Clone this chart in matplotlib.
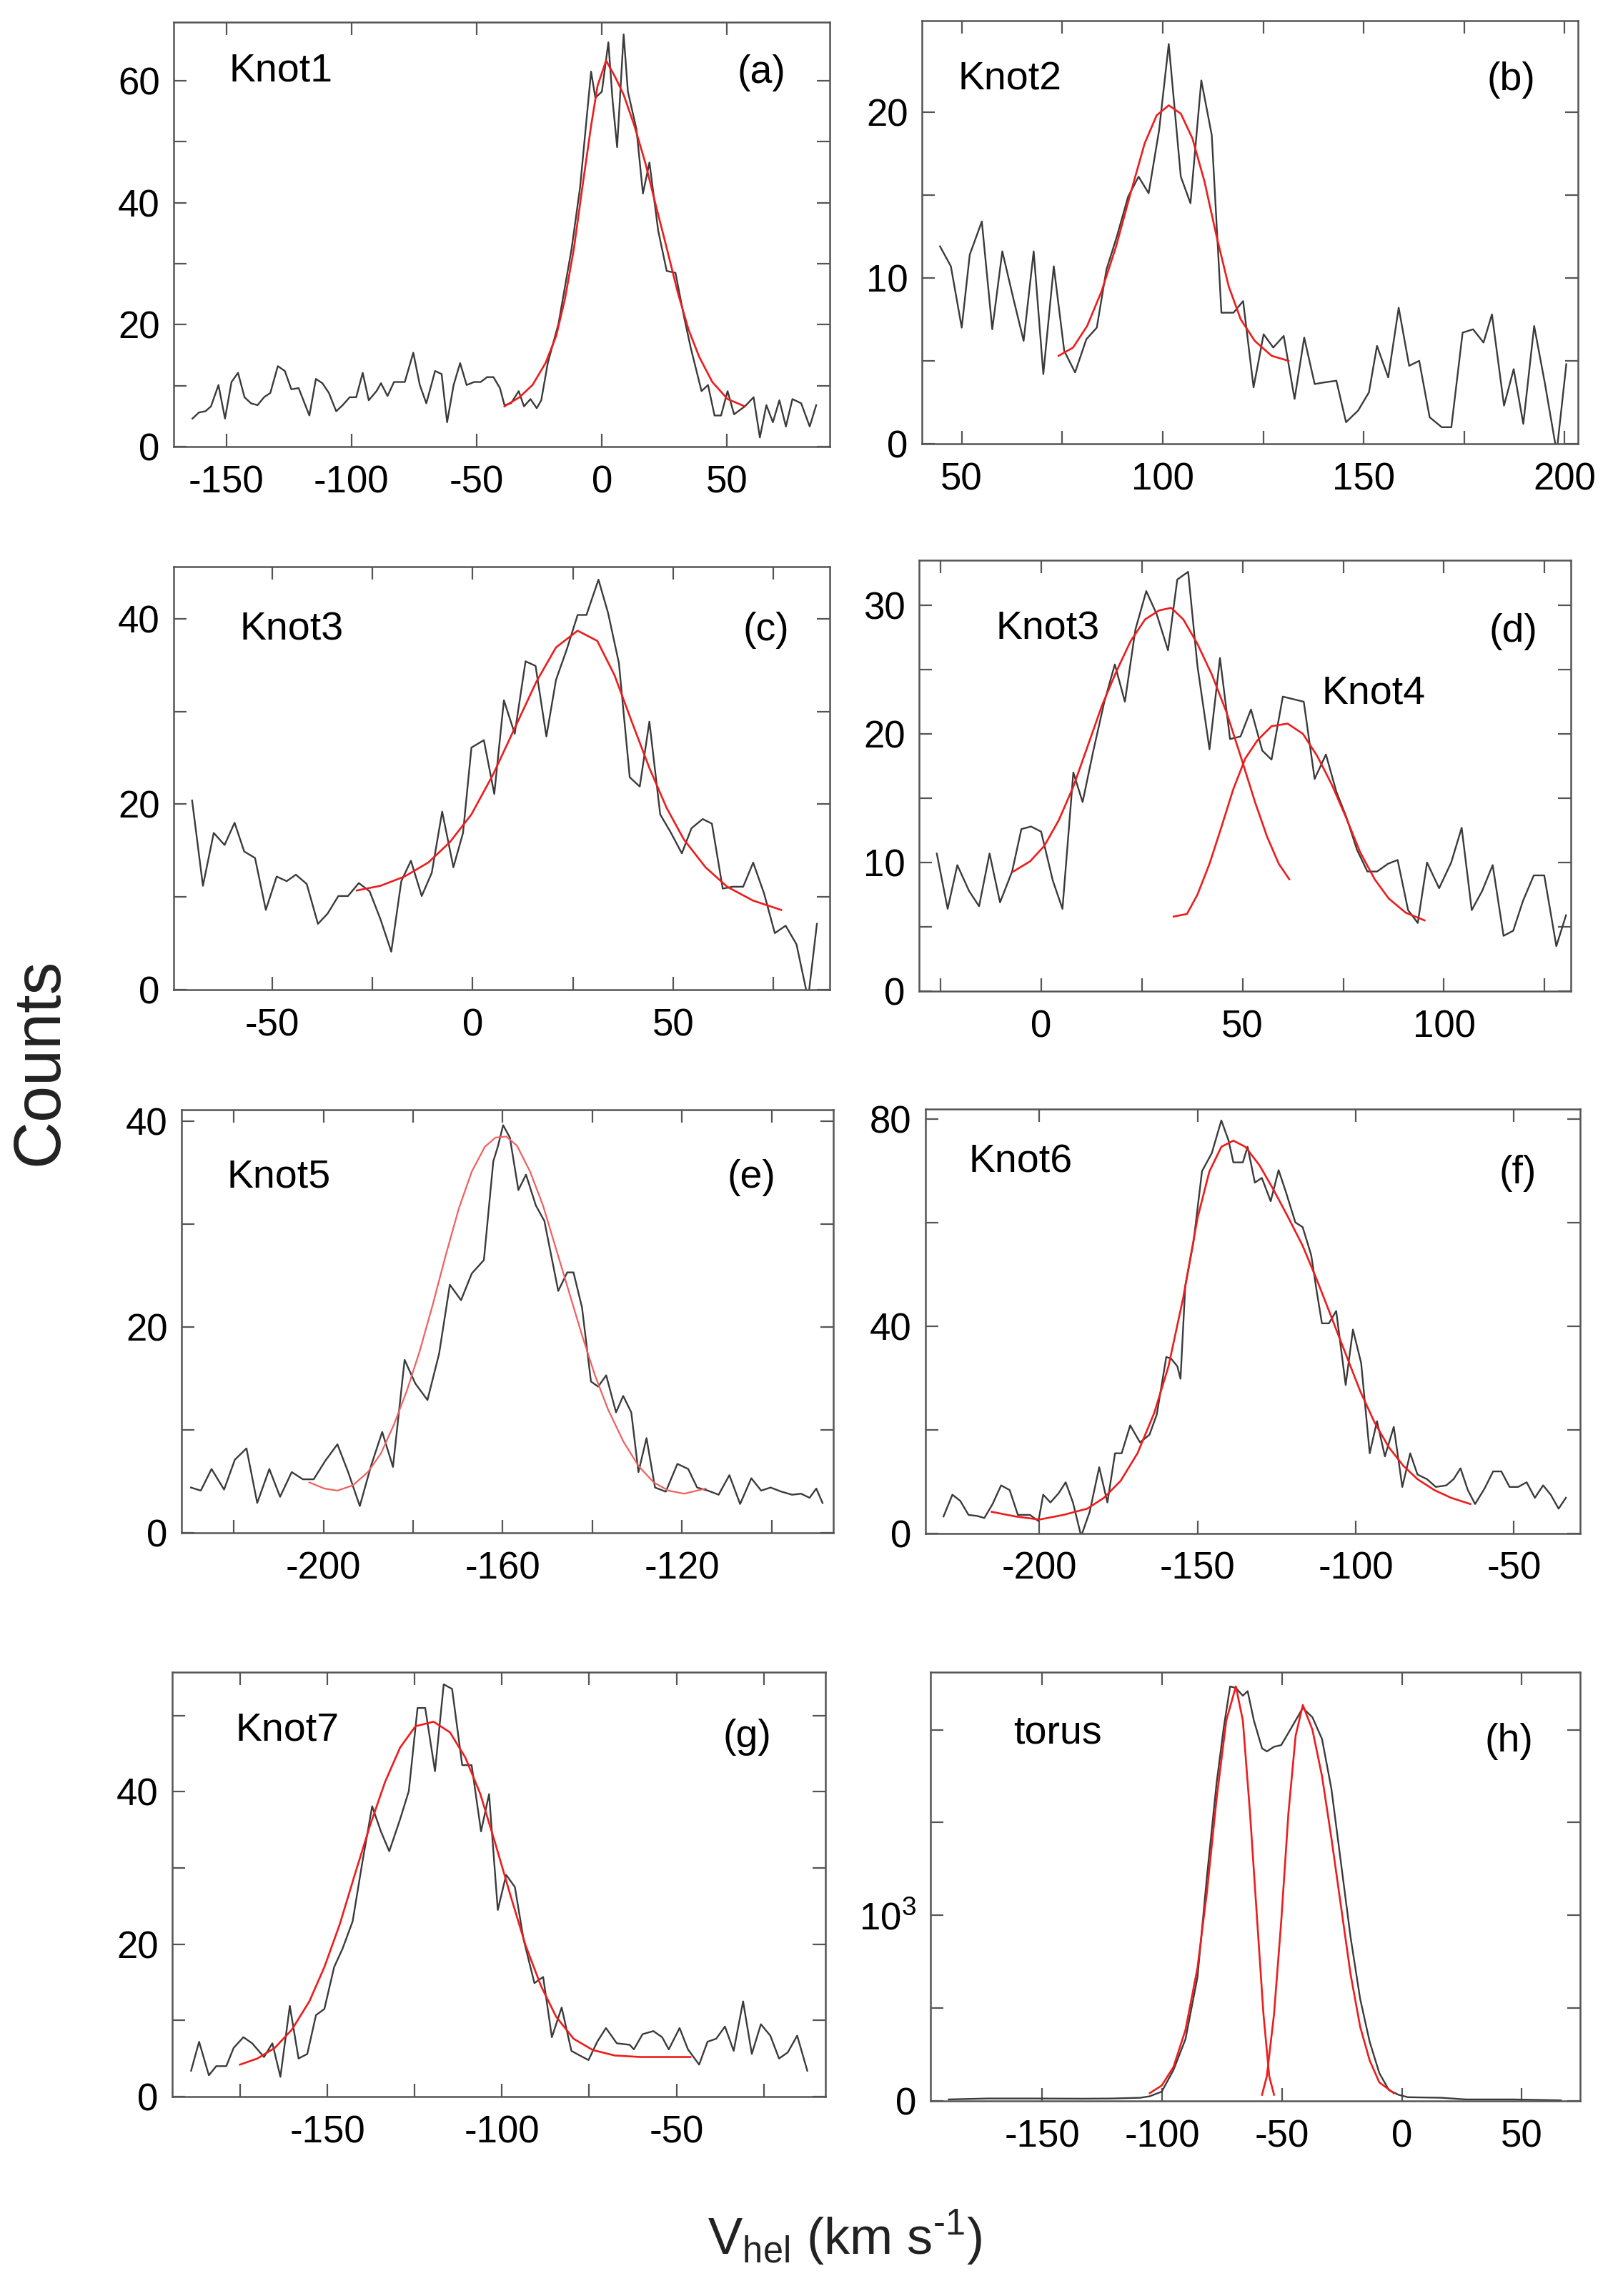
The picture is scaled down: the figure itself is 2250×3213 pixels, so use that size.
import numpy as np
import matplotlib
matplotlib.use("Agg")
from matplotlib import pyplot as plt

plt.rcParams['font.family'] = ['Liberation Sans', 'DejaVu Sans']
plt.rcParams['mathtext.fontset'] = 'custom'
plt.rcParams['mathtext.rm'] = 'Liberation Sans'
plt.rcParams['axes.unicode_minus'] = False

# ---- data (velocity km/s, counts) ----
a_v = [-163.5,-160.9,-158.3,-156.1,-153.1,-150.5,-147.9,-145.3,-142.7,-140.1,-137.5,-134.9,-132.4,-129.4,-126.6,-124.0,-121.1,-116.8,-114.2,-111.6,-109.0,-106.1,-103.5,-100.7,-98.1,-95.5,-93.1,-90.0,-88.2,-85.6,-83.0,-78.7,-75.3,-72.7,-70.1,-66.6,-64.0,-61.8,-59.2,-56.6,-54.0,-51.0,-48.4,-45.8,-43.3,-40.7,-38.9,-36.3,-33.2,-31.1,-28.5,-26.0,-24.2,-21.6,-17.3,-12.1,-8.7,-4.3,-2.6,0.0,2.6,4.3,6.1,8.7,10.4,13.8,16.4,19.0,22.5,25.9,29.4,32.9,35.5,39.8,42.4,45.0,47.6,50.2,52.8,57.1,60.6,63.1,65.7,68.3,70.9,73.5,76.1,79.6,83.0,85.6]
a_c = [4.6,5.6,5.8,6.6,10.1,4.6,10.6,12.1,8.1,7.1,6.8,8.1,8.8,13.2,12.4,9.4,9.6,5.1,11.1,10.4,8.8,5.8,6.8,8.1,8.1,12.1,7.6,9.1,10.4,8.3,10.6,10.6,15.4,10.1,7.1,12.4,11.9,4.0,10.1,13.7,10.1,10.6,10.6,11.4,11.4,9.6,6.8,7.1,9.1,6.6,7.8,6.3,7.6,13.7,20.2,32.4,42.5,61.5,57.2,58.2,66.3,56.7,49.1,67.6,58.2,52.1,41.5,46.6,35.4,28.8,28.5,21.1,16.2,9.1,10.1,5.1,5.1,9.1,5.3,6.6,8.1,1.5,6.8,4.0,7.6,3.3,7.8,7.1,3.3,6.8]
a_fit_v = [-38.9,-32.9,-27.7,-22.5,-18.2,-14.7,-11.2,-7.8,-4.3,-1.7,1.7,5.2,8.7,13.0,17.3,21.6,26.0,30.3,34.6,38.9,44.1,50.2,57.1]
a_fit_c = [6.6,8.1,10.1,13.7,18.2,24.3,32.4,42.5,52.6,59.2,63.3,60.7,57.7,52.6,46.6,39.5,32.4,25.3,19.2,14.7,10.6,7.8,6.6]

b_v = [44.6,47.3,50.0,52.0,55.0,57.6,60.1,62.8,65.4,67.9,70.3,72.9,75.5,78.2,81.0,83.6,86.0,88.6,91.4,94.0,96.5,99.1,101.5,104.5,106.9,109.6,112.2,114.6,117.6,120.0,122.6,125.1,127.5,130.1,132.8,135.2,137.8,140.2,143.2,145.6,148.6,151.3,153.3,156.1,158.7,161.3,163.8,166.4,169.4,171.8,174.6,177.2,179.8,181.9,184.9,187.3,189.7,192.4,195.1,198.0,200.4]
b_c = [11.9,10.7,7.0,11.4,13.4,6.9,11.6,8.8,6.2,11.6,4.2,10.7,5.6,4.3,6.3,7.0,10.5,12.5,14.9,16.1,15.1,18.9,24.1,16.1,14.5,21.9,18.6,7.9,7.9,8.6,3.4,6.6,5.8,6.5,2.7,6.4,3.6,3.7,3.8,1.3,2.0,3.1,5.9,4.0,8.2,4.7,5.0,1.6,1.0,1.0,6.7,6.9,6.1,7.8,2.3,4.5,1.2,7.1,3.6,-0.5,4.8]
b_fit_v = [74.1,77.7,81.2,84.8,88.4,92.0,95.5,98.5,101.5,104.5,107.4,110.4,113.4,116.4,119.4,122.9,127.1,131.3]
b_fit_c = [5.3,5.8,7.1,9.2,11.9,15.1,18.1,19.8,20.4,19.9,18.4,15.8,12.5,9.5,7.5,6.2,5.3,5.0]

c_v = [-70.0,-67.3,-64.6,-61.9,-59.4,-57.0,-54.3,-51.6,-48.9,-46.4,-44.1,-41.4,-38.6,-36.2,-33.5,-31.1,-28.4,-25.7,-23.0,-20.3,-17.8,-15.4,-12.7,-10.2,-7.6,-4.8,-2.4,-0.3,2.8,5.4,7.8,10.5,13.2,15.7,18.4,20.8,23.5,26.2,28.4,31.4,33.8,36.5,39.2,41.7,44.1,46.8,49.5,52.2,54.6,57.4,59.7,62.4,64.9,67.5,70.0,72.7,75.4,78.1,80.8,83.7,85.9]
c_c = [20.4,11.2,16.9,15.6,18.0,14.9,14.2,8.6,12.2,11.7,12.4,11.4,7.1,8.2,10.1,10.1,11.5,10.6,7.6,4.1,11.7,13.9,10.1,12.6,19.2,13.2,16.9,26.1,26.9,21.1,31.2,27.6,35.4,34.9,27.3,33.4,36.7,40.4,40.4,44.2,40.6,35.2,22.9,21.9,28.9,18.9,16.9,14.7,17.4,18.4,17.9,10.9,11.1,11.1,13.7,10.4,6.1,6.9,4.9,-1.0,7.1]
c_fit_v = [-28.9,-23.0,-17.0,-11.1,-5.7,-0.3,5.1,10.5,15.9,20.8,26.2,31.1,35.4,39.7,44.1,48.4,52.7,58.1,63.5,70.0,77.0]
c_fit_c = [10.7,11.2,12.2,13.7,15.9,18.9,23.2,28.2,33.2,36.9,38.7,37.6,33.9,28.9,23.9,19.6,16.2,13.2,11.1,9.6,8.6]

d_v = [-25.9,-23.2,-20.8,-17.9,-15.4,-12.8,-10.2,-7.2,-4.9,-2.5,0.0,2.9,5.3,8.0,10.3,12.9,15.7,18.3,20.8,23.4,26.1,28.7,31.5,33.8,36.5,38.8,41.8,44.4,46.9,49.5,52.1,54.9,57.2,60.0,62.6,65.2,67.9,70.7,73.3,75.7,78.4,81.0,83.4,86.1,88.5,91.1,93.5,95.8,98.8,101.8,104.4,106.9,109.5,112.1,114.8,117.2,119.6,122.3,124.9,127.9,130.3]
d_c = [10.7,6.4,9.8,7.8,6.6,10.7,6.9,9.3,12.6,12.8,12.4,8.6,6.4,17.0,14.7,18.6,22.5,25.4,22.5,28.1,31.1,29.3,26.5,32.0,32.6,25.3,18.8,25.9,19.6,19.8,21.9,18.7,18.0,22.9,22.7,22.5,16.5,18.4,15.5,13.6,11.0,9.3,9.3,9.9,10.2,6.3,5.3,10.0,8.0,10.0,12.7,6.3,7.8,9.8,4.3,4.7,7.0,9.0,9.0,3.5,5.9]
d_fit1_v = [-6.9,-2.7,0.8,4.4,8.0,11.5,15.1,18.6,22.2,25.8,29.3,32.3,35.3,38.8,42.4,46.0,49.5,53.1,56.1,59.0,61.6]
d_fit1_c = [9.3,10.1,11.3,13.3,15.9,19.0,22.2,24.8,27.2,28.9,29.6,29.8,28.9,27.0,24.6,21.7,18.3,14.7,12.0,9.9,8.7]
d_fit2_v = [32.9,36.2,38.8,41.8,44.8,47.7,50.7,53.7,57.2,61.2,65.0,68.5,72.1,75.7,79.2,82.8,86.3,90.5,95.2]
d_fit2_c = [5.8,6.0,7.5,9.9,12.8,15.7,18.1,19.5,20.6,20.8,20.0,18.3,16.1,13.5,10.8,8.7,7.2,6.1,5.5]

e_v = [-229.6,-227.4,-225.0,-222.2,-219.8,-217.2,-214.8,-212.1,-209.7,-207.1,-204.6,-202.2,-199.6,-196.9,-194.5,-191.9,-189.4,-186.9,-184.5,-181.9,-179.5,-176.8,-174.2,-171.8,-169.3,-166.9,-164.2,-162.1,-161.1,-159.9,-158.4,-156.5,-154.8,-152.6,-150.7,-147.6,-145.6,-144.2,-142.3,-140.3,-138.7,-136.9,-134.7,-133.1,-131.3,-129.7,-127.9,-126.0,-123.6,-121.0,-118.6,-116.6,-114.2,-111.8,-109.4,-107.0,-104.5,-102.3,-100.2,-97.8,-95.4,-93.4,-91.5,-90.0,-88.6]
e_c = [4.4,4.1,6.2,4.2,7.1,8.2,2.9,6.2,3.5,5.9,5.2,5.2,7.0,8.6,5.9,2.6,6.5,9.8,6.4,16.8,14.5,12.9,17.4,24.1,22.6,25.2,26.5,36.1,37.5,39.6,38.4,33.3,34.8,31.8,30.3,23.5,25.3,25.3,21.9,14.7,14.2,15.3,11.7,13.3,11.7,5.9,9.2,4.4,4.0,6.7,6.2,4.4,4.1,3.7,5.6,2.8,5.3,4.1,4.4,4.0,3.7,3.8,3.4,4.3,2.9]
e_fit_v = [-203.2,-199.8,-196.9,-193.5,-190.1,-187.2,-184.3,-181.4,-178.5,-175.6,-172.7,-169.8,-166.9,-164.0,-161.6,-159.2,-156.8,-153.9,-151.0,-148.1,-145.2,-142.3,-139.4,-136.5,-133.1,-129.7,-126.3,-123.0,-119.5,-114.7]
e_fit_c = [4.9,4.3,4.1,4.6,5.9,7.7,10.5,13.8,17.7,22.2,27.0,31.5,35.1,37.5,38.4,38.5,37.6,35.1,31.8,27.6,23.4,19.2,15.3,12.0,8.9,6.5,4.9,4.1,3.8,4.3]

f_v = [-230.3,-227.5,-225.0,-222.4,-219.7,-217.4,-214.8,-212.1,-209.4,-206.8,-203.0,-200.3,-198.8,-196.5,-193.9,-191.7,-189.4,-186.8,-184.1,-181.1,-178.5,-176.1,-174.0,-171.3,-168.2,-165.2,-162.9,-159.9,-158.4,-156.4,-155.4,-153.9,-151.3,-148.6,-145.5,-142.5,-140.2,-138.7,-135.7,-134.2,-131.9,-129.7,-126.9,-124.4,-122.1,-119.1,-116.8,-114.1,-112.3,-110.7,-108.5,-106.2,-103.2,-100.9,-98.3,-95.6,-93.3,-90.8,-88.0,-85.3,-82.8,-80.5,-77.5,-74.7,-71.4,-69.1,-66.9,-64.6,-62.3,-59.3,-56.6,-54.0,-51.4,-48.7,-46.0,-43.4,-40.8,-38.4,-35.9,-33.6]
f_c = [3.3,7.5,6.3,3.6,3.4,3.0,5.7,9.3,8.4,3.6,3.6,2.4,7.5,6.0,7.8,9.9,6.0,-0.5,4.2,12.8,6.0,15.5,15.5,20.9,17.6,19.1,23.0,34.1,33.8,32.3,29.9,47.8,56.3,70.0,73.5,79.8,75.9,71.7,71.7,74.7,67.8,68.7,64.2,70.2,66.0,60.1,59.2,53.8,46.6,40.6,40.6,43.0,28.7,39.4,32.9,15.5,21.7,14.9,20.6,9.0,15.5,11.4,10.5,9.0,9.3,10.5,12.6,8.4,5.7,8.7,12.0,12.0,9.0,9.0,9.9,6.9,9.3,7.5,4.8,6.9]
f_fit_v = [-215.1,-207.6,-200.0,-192.4,-184.9,-179.6,-174.3,-169.0,-163.7,-159.2,-154.6,-150.0,-146.3,-142.5,-138.7,-134.9,-130.4,-125.9,-121.3,-116.8,-112.3,-107.7,-103.2,-98.6,-94.1,-89.6,-85.0,-80.5,-75.2,-69.9,-63.8]
f_fit_c = [4.2,3.3,2.7,3.6,4.8,6.9,10.2,15.5,23.3,32.3,45.4,61.0,69.9,74.7,75.9,74.7,71.1,66.3,61.0,55.6,49.0,41.8,34.7,27.5,21.5,16.7,13.1,10.5,8.4,6.9,5.7]

g_v = [-189.1,-186.8,-184.0,-181.9,-179.0,-176.9,-174.1,-171.6,-168.2,-165.8,-163.5,-160.8,-158.3,-155.8,-153.3,-150.9,-148.1,-145.7,-142.8,-140.0,-137.2,-134.7,-132.3,-129.2,-126.7,-124.2,-122.0,-119.2,-116.7,-114.3,-111.4,-108.7,-106.0,-103.7,-101.2,-98.8,-96.3,-93.8,-90.7,-88.2,-85.7,-82.9,-80.1,-77.7,-75.2,-72.7,-70.2,-67.1,-63.4,-62.2,-59.7,-56.6,-54.1,-52.2,-49.1,-46.7,-43.5,-41.1,-38.6,-36.1,-33.6,-30.9,-28.4,-25.8,-23.1,-20.6,-18.1,-15.4,-12.5]
g_c = [3.4,7.2,2.8,4.0,4.0,6.4,7.8,7.0,5.2,7.0,2.6,11.9,5.0,5.6,10.7,11.5,17.0,19.4,23.0,30.8,38.1,34.8,32.2,36.4,40.1,51.0,51.0,42.7,54.1,53.5,43.5,43.5,34.8,39.7,24.5,29.1,27.5,20.6,14.9,15.7,7.8,11.7,6.0,5.4,4.8,7.2,9.0,7.0,6.8,6.2,8.2,8.6,7.8,6.2,9.0,6.2,4.2,7.2,7.6,9.2,6.0,12.5,5.6,9.5,8.0,5.0,5.8,8.0,3.4]
g_fit_v = [-175.1,-170.1,-165.1,-160.2,-155.2,-150.9,-146.5,-142.2,-137.8,-133.5,-129.2,-124.8,-119.6,-114.9,-110.5,-106.2,-101.9,-97.5,-93.2,-88.8,-84.5,-79.5,-73.9,-67.7,-60.3,-46.0]
g_fit_c = [4.2,5.0,6.4,8.8,12.5,17.0,22.6,29.1,35.6,41.3,45.8,48.6,49.2,47.8,44.5,39.7,33.2,26.3,19.8,14.5,10.5,7.6,6.1,5.4,5.2,5.2]

h_v = [-188.9,-172.9,-153.0,-133.1,-121.1,-109.1,-105.1,-100.1,-95.2,-90.2,-85.2,-81.2,-77.2,-74.2,-71.6,-69.2,-66.3,-64.3,-61.7,-58.3,-56.3,-53.3,-50.3,-47.3,-44.3,-41.3,-37.3,-33.3,-29.4,-25.4,-21.4,-17.4,-13.4,-9.4,-5.4,-1.4,2.5,16.5,26.5,46.4,66.3]
h_c = [8,13,13,12,13,17,25,50,167,333,667,1217,1717,2017,2233,2225,2183,2208,2050,1900,1883,1908,1917,1983,2050,2117,2067,1950,1683,1283,883,550,317,150,58,33,20,17,8,8,3]
h_fit1_v = [-105.1,-100.1,-95.2,-90.2,-85.2,-81.2,-77.2,-73.2,-69.2,-66.3,-63.3,-60.3,-57.7,-55.3,-53.3]
h_fit1_c = [42,83,183,383,717,1133,1633,2050,2233,2050,1550,967,467,133,33]
h_fit2_v = [-58.3,-56.3,-53.3,-50.3,-47.3,-44.3,-41.3,-37.3,-33.3,-29.4,-25.4,-21.4,-17.4,-13.4,-9.4,-3.4]
h_fit2_c = [33,133,467,967,1550,1967,2133,2000,1750,1417,1050,683,400,217,100,42]

W, H = 2250, 3213
fig = plt.figure(figsize=(W / 100, H / 100), dpi=100)

# panel: box in pixels (left, top, right, bottom), limits, ticks, texts
panels = [
    dict(box=(243, 31, 1161, 625), xlim=(-171, 91), ylim=(0, 69.6),
         xmaj=[-150, -100, -50, 0, 50], xmin=[],
         ymaj=[0, 20, 40, 60], ymin=[10, 30, 50],
         data=(a_v, a_c), fits=[(a_fit_v, a_fit_c)],
         labels=[('Knot1', 0.084, 0.885)], tag=('(a)', 0.896, 0.88)),
    dict(box=(1290, 29, 2208, 621), xlim=(40.1, 203.3), ylim=(0.2, 25.5),
         xmaj=[50, 100, 150, 200], xmin=[75, 125, 175],
         ymaj=[0, 10, 20], ymin=[5, 15],
         data=(b_v, b_c), fits=[(b_fit_v, b_fit_c)],
         labels=[('Knot2', 0.055, 0.86)], tag=('(b)', 0.898, 0.86)),
    dict(box=(243, 793, 1161, 1385), xlim=(-74.6, 89.1), ylim=(0, 45.6),
         xmaj=[-50, 0, 50], xmin=[-25, 25, 75],
         ymaj=[0, 20, 40], ymin=[10, 30],
         data=(c_v, c_c), fits=[(c_fit_v, c_fit_c)],
         labels=[('Knot3', 0.101, 0.85)], tag=('(c)', 0.903, 0.85)),
    dict(box=(1286, 784, 2198, 1387), xlim=(-30.3, 131.5), ylim=(0, 33.5),
         xmaj=[0, 50, 100], xmin=[-25, 25, 75, 125],
         ymaj=[0, 10, 20, 30], ymin=[5, 15, 25],
         data=(d_v, d_c), fits=[(d_fit1_v, d_fit1_c), (d_fit2_v, d_fit2_c)],
         labels=[('Knot3', 0.118, 0.84), ('Knot4', 0.618, 0.69)], tag=('(d)', 0.912, 0.834)),
    dict(box=(254, 1553, 1166, 2145), xlim=(-231.7, -86.2), ylim=(0, 41.1),
         xmaj=[-200, -160, -120], xmin=[-220, -180, -140, -100],
         ymaj=[0, 20, 40], ymin=[10, 30],
         data=(e_v, e_c), fits=[(e_fit_v, e_fit_c)],
         labels=[('Knot5', 0.070, 0.84)], tag=('(e)', 0.874, 0.84)),
    dict(box=(1295, 1552, 2211, 2146), xlim=(-236, -29.1), ylim=(0, 82),
         xmaj=[-200, -150, -100, -50], xmin=[],
         ymaj=[0, 40, 80], ymin=[20, 60],
         data=(f_v, f_c), fits=[(f_fit_v, f_fit_c)],
         labels=[('Knot6', 0.066, 0.874)], tag=('(f)', 0.905, 0.848)),
    dict(box=(241, 2340, 1155, 2934), xlim=(-194.5, -7.3), ylim=(0, 55.7),
         xmaj=[-150, -100, -50], xmin=[-175, -125, -75, -25],
         ymaj=[0, 20, 40], ymin=[10, 30, 50],
         data=(g_v, g_c), fits=[(g_fit_v, g_fit_c)],
         labels=[('Knot7', 0.097, 0.862)], tag=('(g)', 0.880, 0.847)),
    dict(box=(1302, 2340, 2211, 2940), xlim=(-196.5, 74.3), ylim=(0, 2310),
         xmaj=[-150, -100, -50, 0, 50], xmin=[],
         ymaj=[0, 1000], ymin=[500, 1500, 2000],
         data=(h_v, h_c), fits=[(h_fit1_v, h_fit1_c), (h_fit2_v, h_fit2_c)],
         labels=[('torus', 0.128, 0.857)], tag=('(h)', 0.89, 0.838)),
]

for i, p in enumerate(panels):
    l, t, r, b = p['box']
    ax = fig.add_axes([l / W, 1 - b / H, (r - l) / W, (b - t) / H])
    v, c = p['data']
    ax.plot(v, c, color='#3a3a3a', lw=1.7, zorder=2)
    for fv, fc in p['fits']:
        if i == 4:
            ax.plot(fv, fc, color='#f06060', lw=1.6, zorder=3)
        else:
            ax.plot(fv, fc, color='#ee1c1c', lw=1.9, zorder=3)
    ax.set_xlim(*p['xlim'])
    ax.set_ylim(*p['ylim'])
    ax.set_xticks(p['xmaj'])
    ax.set_xticks(p['xmin'], minor=True)
    ax.set_yticks(p['ymaj'])
    ax.set_yticks(p['ymin'], minor=True)
    if i == 7:
        ax.set_yticklabels(['0', r'10$^{\mathregular{3}}$'])
    ax.tick_params(which='both', direction='in', top=True, right=True,
                   length=13, width=1.6, color='#555555', labelsize=38)
    ax.tick_params(axis='x', which='both', pad=18)
    ax.tick_params(axis='y', which='both', pad=14)
    for s in ax.spines.values():
        s.set_color('#555555')
        s.set_linewidth(1.8)
    for txt, x, y in p['labels']:
        ax.text(x, y, txt, transform=ax.transAxes, fontsize=40,
                ha='left', va='center')
    tg, x, y = p['tag']
    ax.text(x, y, tg, transform=ax.transAxes, fontsize=40,
            ha='center', va='center')

fig.text(56 / W, 1 - 1486 / H, 'Counts', rotation=90, fontsize=66,
         ha='center', va='center', color='#222222')
fig.text(1182 / W, 1 - 3155 / H, 'V$_{\\mathregular{hel}}$ (km s$^{\\mathregular{\u2010}1}$)',
         fontsize=52, ha='center', va='baseline', color='#222222')

fig.savefig('out.png', dpi=100)
